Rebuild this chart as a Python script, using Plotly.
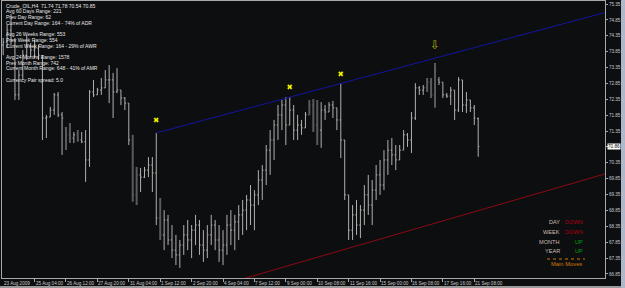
import plotly.graph_objects as go

# ---------------- DATA ----------------
bar_open = [74.06, 74.15, 74.53, 74.22, 72.49, 73.11, 73.74, 74.06, 73.90, 73.96,
            73.65, 71.76, 71.79, 72.01, 72.49, 71.86, 71.45, 71.23, 71.13, 71.23,
            71.07, 71.01, 70.44, 72.58, 72.49, 72.64, 72.71, 72.96, 72.96, 72.58,
            72.64, 72.39, 72.23, 71.07, 69.34, 69.97, 69.90, 70.12, 70.28, 70.03,
            68.61, 68.08, 68.55, 67.92, 67.60, 67.45, 67.76, 68.08, 67.92, 68.23,
            68.39, 67.76, 67.60, 68.08, 68.39, 67.92, 67.60, 67.76, 68.39, 68.23,
            68.49, 68.71, 68.86, 69.18, 69.02, 69.34, 69.81, 70.12, 70.75, 71.07,
            71.54, 71.86, 72.17, 71.54, 72.01, 71.38, 71.54, 71.45, 71.86, 72.17,
            71.54, 71.38, 72.01, 71.95, 72.17, 72.08, 71.70, 71.07, 69.34, 68.23,
            68.71, 68.39, 68.86, 69.34, 69.02, 69.49, 69.97, 69.65, 70.44, 70.75,
            70.60, 70.44, 70.75, 71.23, 71.07, 71.76, 72.71, 72.64, 72.71, 72.89,
            72.49, 72.96, 72.89, 72.49, 72.45, 72.64, 72.01, 72.96, 72.17, 72.33,
            72.08, 71.74]
bar_high = [74.28, 74.69, 75.04, 74.28, 73.27, 73.90, 74.37, 74.12, 74.22, 74.06,
            73.74, 71.86, 72.11, 72.55, 72.58, 71.95, 71.48, 71.60, 71.32, 71.38,
            71.32, 71.38, 72.64, 72.96, 72.71, 73.02, 73.27, 73.43, 73.18, 73.33,
            72.64, 72.42, 72.23, 71.23, 70.22, 70.19, 70.22, 70.53, 70.53, 71.29,
            69.24, 68.86, 68.71, 68.39, 68.08, 67.92, 68.39, 68.55, 68.39, 68.71,
            68.55, 68.23, 68.39, 68.71, 68.55, 68.39, 68.23, 68.71, 68.86, 68.71,
            69.02, 69.18, 69.34, 69.65, 69.49, 70.12, 70.28, 70.91, 71.38, 71.70,
            72.17, 72.33, 72.42, 72.42, 72.17, 71.86, 71.70, 71.95, 72.33, 72.36,
            72.33, 72.26, 72.17, 72.26, 72.30, 72.08, 72.86, 71.07, 69.34, 69.02,
            69.18, 69.02, 69.65, 69.97, 69.81, 70.28, 70.44, 70.75, 71.07, 71.13,
            70.91, 70.91, 71.38, 71.29, 71.95, 72.86, 72.77, 72.80, 73.02, 73.02,
            73.49, 73.05, 72.89, 72.55, 72.74, 72.64, 73.05, 72.96, 72.58, 72.33,
            72.17, 71.78]
bar_low = [73.74, 73.96, 74.06, 72.33, 72.33, 72.96, 73.59, 73.68, 73.65, 73.59,
           71.07, 71.13, 71.79, 71.86, 71.79, 70.60, 70.75, 70.97, 70.97, 71.01,
           70.97, 69.75, 70.22, 72.42, 72.49, 72.49, 72.71, 72.23, 71.76, 72.55,
           72.17, 72.01, 70.91, 69.12, 69.02, 69.43, 69.87, 69.90, 69.43, 68.39,
           67.92, 67.60, 67.76, 67.35, 67.13, 67.04, 67.45, 67.60, 67.35, 67.76,
           67.45, 67.23, 67.35, 67.76, 67.60, 67.23, 67.13, 67.45, 67.76, 67.60,
           67.92, 68.08, 68.23, 68.39, 68.23, 69.02, 69.18, 69.65, 69.97, 70.44,
           71.07, 71.38, 70.91, 71.54, 71.07, 71.07, 71.23, 71.45, 71.86, 71.32,
           70.91, 70.82, 71.70, 71.95, 71.76, 71.38, 70.50, 69.18, 67.92, 67.92,
           68.08, 67.98, 68.39, 68.71, 68.39, 69.18, 69.34, 69.49, 69.97, 70.28,
           70.12, 70.44, 70.75, 70.85, 70.66, 71.70, 72.49, 72.49, 72.58, 72.39,
           72.08, 72.80, 72.39, 72.39, 72.17, 71.70, 71.95, 71.95, 71.92, 71.95,
           71.54, 70.54]
bar_close = [74.15, 74.53, 74.22, 72.49, 73.11, 73.74, 74.06, 73.90, 73.96, 73.74,
             71.76, 71.79, 72.01, 72.49, 71.86, 71.76, 71.23, 71.13, 71.23, 71.07,
             71.01, 70.44, 72.58, 72.49, 72.64, 72.71, 72.96, 72.96, 72.58, 72.64,
             72.39, 72.23, 71.07, 69.34, 69.97, 69.90, 70.12, 70.28, 70.03, 68.61,
             68.08, 68.55, 67.92, 67.60, 67.45, 67.76, 68.08, 67.92, 68.23, 68.39,
             67.76, 67.60, 68.08, 68.39, 67.92, 67.60, 67.76, 68.39, 68.23, 68.49,
             68.71, 68.86, 69.18, 69.02, 69.34, 69.81, 70.12, 70.75, 71.07, 71.54,
             71.86, 72.17, 71.54, 72.01, 71.38, 71.54, 71.45, 71.86, 72.17, 71.54,
             71.38, 72.01, 71.95, 72.17, 72.08, 71.70, 71.07, 69.34, 68.23, 68.71,
             68.39, 68.86, 69.34, 69.02, 69.49, 69.97, 69.65, 70.44, 70.75, 70.60,
             70.44, 70.75, 71.23, 71.07, 71.76, 72.71, 72.64, 72.71, 72.89, 72.49,
             73.27, 72.89, 72.49, 72.45, 72.64, 72.01, 72.96, 72.17, 72.33, 72.08,
             71.76, 70.86]
dark_bars = [16, 17, 19, 33, 34, 40, 78, 79, 80, 108, 109, 110]

time_label_bars = [0, 8, 16, 24, 32, 40, 48, 56, 64, 72, 80, 88, 96, 104, 112, 120]
time_labels = ["23 Aug 2009", "25 Aug 04:00", "26 Aug 12:00", "27 Aug 20:00",
               "31 Aug 04:00", "1 Sep 12:00", "2 Sep 20:00", "4 Sep 04:00",
               "7 Sep 12:00", "9 Sep 00:00", "10 Sep 08:00", "11 Sep 16:00",
               "15 Sep 00:00", "16 Sep 08:00", "17 Sep 16:00", "21 Sep 08:00"]

price_ticks = [66.85, 67.35, 67.85, 68.35, 68.85, 69.35, 69.85, 70.35, 70.85,
               71.35, 71.85, 72.35, 72.85, 73.35, 73.85, 74.35, 74.85, 75.35]
price_tick_text = ["66.85", "67.35", "67.85", "68.35", "68.85", "69.35", "69.85",
                   "70.35", "", "71.35", "71.85", "72.35", "72.85", "73.35",
                   "73.85", "74.35", "74.85", "75.35"]
current_price = 70.86

blue_trend_x = [39, 153.3]
blue_trend_y = [71.29, 75.08]
red_trend_x = [50, 153.3]
red_trend_y = [66.30, 70.00]

x_mark_bars = [39, 73, 86]
x_mark_prices = [71.70, 72.74, 73.15]
arrow_bars = [110]
arrow_prices = [74.02]

info_lines = ["Crude_OIL,H4  71.74 71.78 70.54 70.85",
              "Avg 60 Days Range: 221",
              "Prev Day Range: 62",
              "Current Day Range: 164 - 74% of ADR",
              "",
              "Avg 26 Weeks Range: 553",
              "Prev Week Range: 554",
              "Current Week Range: 164 - 29% of AWR",
              "",
              "Avg 24 Months Range: 1578",
              "Prev Month Range: 742",
              "Current Month Range: 648 - 41% of AMR",
              "",
              "Currency Pair spread: 5.0"]

move_periods = ["DAY", "WEEK", "MONTH", "YEAR"]
move_dirs = ["DOWN", "DOWN", "UP", "UP"]

# ---------------- LAYOUT HELPERS ----------------
W, H = 625, 288
ML, MR, MT, MB = 2, 20, 1, 10
PW = W - ML - MR
PH = H - MT - MB


def px(x):
    return (x - ML) / PW


def py(y):
    return 1 - (y - MT) / PH


BG = "#0d0e10"
LIGHT = "#b0b0b0"
DARK = "#5a5a5a"
AXIS = "#a8a8a8"
FONT = "Liberation Sans"

fig = go.Figure()

idx = list(range(len(bar_open)))
light_i = [i for i in idx if i not in dark_bars]
dark_i = [i for i in idx if i in dark_bars]


def ohlc(ids, color, width):
    return go.Ohlc(
        x=ids,
        open=[bar_open[i] for i in ids],
        high=[bar_high[i] for i in ids],
        low=[bar_low[i] for i in ids],
        close=[bar_close[i] for i in ids],
        increasing=dict(line=dict(color=color, width=width)),
        decreasing=dict(line=dict(color=color, width=width)),
        tickwidth=0.3,
        hoverinfo="skip",
        showlegend=False,
    )


fig.add_trace(ohlc(dark_i, DARK, 2))
fig.add_trace(ohlc(light_i, LIGHT, 1))

fig.add_trace(go.Scatter(x=blue_trend_x, y=blue_trend_y, mode="lines",
                         line=dict(color="#1414a0", width=1), showlegend=False,
                         hoverinfo="skip"))
fig.add_trace(go.Scatter(x=red_trend_x, y=red_trend_y, mode="lines",
                         line=dict(color="#8c0a14", width=1), showlegend=False,
                         hoverinfo="skip"))
fig.add_trace(go.Scatter(x=x_mark_bars, y=x_mark_prices, mode="markers",
                         marker=dict(symbol="x", size=4.5, color="#ffff00",
                                     line=dict(color="#6a6a00", width=0.5)),
                         showlegend=False, hoverinfo="skip"))
fig.add_trace(go.Scatter(x=arrow_bars, y=arrow_prices, mode="text",
                         text=["\u21e9"], textfont=dict(family="DejaVu Sans", size=12, color="#b8aa00"),
                         showlegend=False, hoverinfo="skip"))

annotations = []
for b, t in zip(time_label_bars, time_labels):
    annotations.append(dict(x=b, y=0, xref="x", yref="paper", text=t, showarrow=False,
                            xanchor="left", yanchor="top", xshift=-1, yshift=-1,
                            font=dict(family=FONT, size=4.6, color="#c8c8c8")))

for k, line in enumerate(info_lines):
    if not line:
        continue
    annotations.append(dict(x=px(4), y=py(5.7 + 5.7 * k), xref="paper", yref="paper",
                            text=line, showarrow=False, xanchor="left", yanchor="middle",
                            font=dict(family=FONT, size=5, color="#e6e6e6")))

annotations.append(dict(x=1, y=current_price, xref="paper", yref="y", text="70.86",
                        showarrow=False, xanchor="left", yanchor="middle", xshift=2,
                        bgcolor="#ffffff", borderpad=0,
                        font=dict(family=FONT, size=4.6, color="#000000")))

for k, (p, d) in enumerate(zip(move_periods, move_dirs)):
    yy = py(222 + 9.8 * k)
    annotations.append(dict(x=px(562), y=yy, xref="paper", yref="paper", text=p,
                            showarrow=False, xanchor="right", yanchor="middle",
                            font=dict(family=FONT, size=5.6, color="#c8bcb0")))
    annotations.append(dict(x=px(585), y=yy, xref="paper", yref="paper", text=d,
                            showarrow=False, xanchor="right", yanchor="middle",
                            font=dict(family=FONT, size=5.6,
                                      color="#b00010" if d == "DOWN" else "#00a000")))
annotations.append(dict(x=px(566), y=py(263.5), xref="paper", yref="paper", text="Main Moves",
                        showarrow=False, xanchor="center", yanchor="middle",
                        font=dict(family=FONT, size=5.8, color="#d27800")))

shapes = [
    dict(type="line", xref="paper", yref="paper", x0=px(547), x1=px(585), y0=py(259), y1=py(259),
         line=dict(color="#d27800", width=1, dash="dot")),
    dict(type="rect", xref="paper", yref="paper", x0=px(621), x1=px(626), y0=py(289), y1=py(-1),
         fillcolor="#aeb8cc", line=dict(width=0), layer="above"),
    dict(type="rect", xref="paper", yref="paper", x0=px(-1), x1=px(621), y0=py(289), y1=py(286),
         fillcolor="#9a9a9a", line=dict(width=0), layer="above"),
]

fig.update_layout(
    width=W, height=H,
    margin=dict(l=ML, r=MR, t=MT, b=MB, pad=0),
    paper_bgcolor=BG, plot_bgcolor=BG,
    showlegend=False,
    annotations=annotations,
    shapes=shapes,
    xaxis=dict(range=[-0.3, 153.3], showgrid=False, zeroline=False, showline=True,
               linecolor=AXIS, linewidth=1, mirror=True, ticks="outside",
               tickvals=time_label_bars[1:], ticklen=3, tickcolor=AXIS, tickwidth=1,
               showticklabels=False, rangeslider=dict(visible=False), fixedrange=True),
    yaxis=dict(range=[66.723, 75.445], side="right", showgrid=False, zeroline=False,
               showline=True, linecolor=AXIS, linewidth=1, mirror=True,
               ticks="outside", ticklen=2, tickcolor=AXIS, tickwidth=1,
               tickvals=price_ticks, ticktext=price_tick_text,
               tickfont=dict(family=FONT, size=4.6, color="#c8c8c8"), fixedrange=True),
)

fig.write_html("out.html")
